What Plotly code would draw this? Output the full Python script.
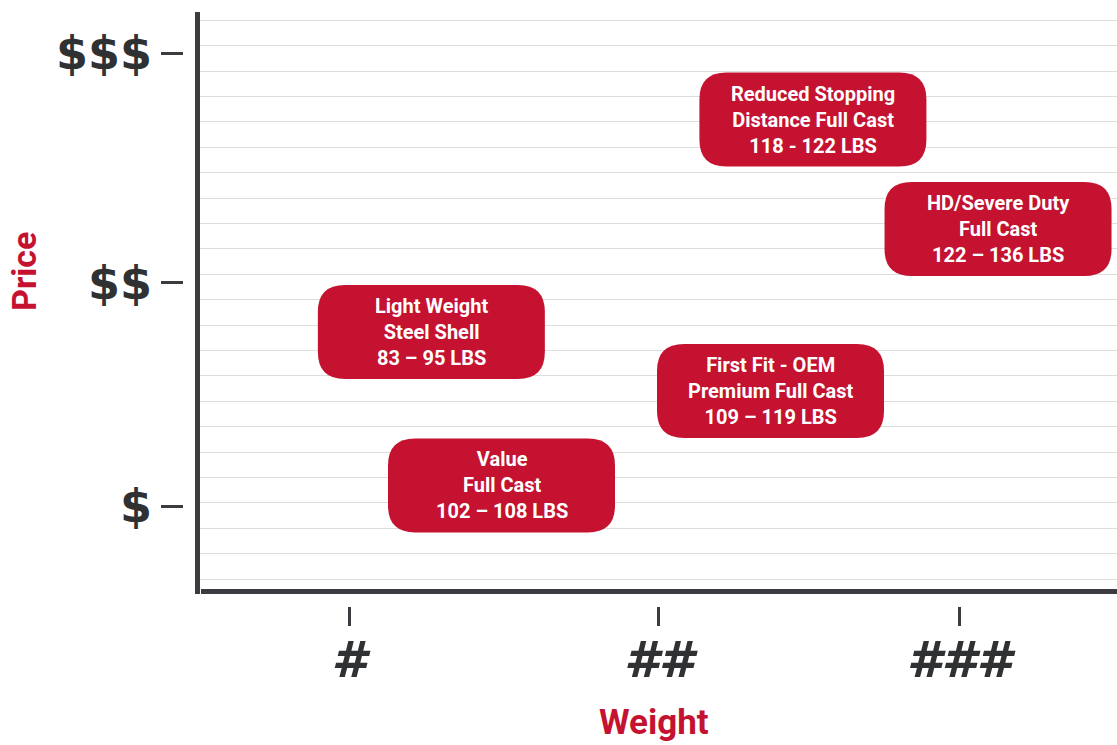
import plotly.graph_objects as go

# ---- data ----
categories = [
    "Reduced Stopping<br>Distance Full Cast<br>118 - 122 LBS",
    "HD/Severe Duty<br>Full Cast<br>122 – 136 LBS",
    "Light Weight<br>Steel Shell<br>83 – 95 LBS",
    "First Fit - OEM<br>Premium Full Cast<br>109 – 119 LBS",
    "Value<br>Full Cast<br>102 – 108 LBS",
]
weight_pos = [2.521, 3.128, 1.270, 2.382, 1.500]
price_pos = [2.706, 2.223, 1.768, 1.508, 1.091]

weight_ticks = [1, 2.016, 3]
weight_labels = ["#", "##", "###"]
price_ticks = [1, 1.985, 3]
price_labels = ["$", "$$", "$$$"]

RED = "#c41230"
DARK = "#3c3b40"
TXT = "#2f3133"
GRID = "#dddddd"
W, H = 1117, 745

x_range = [0.5115, 3.518]
y_range = [0.6203, 3.181]

fig = go.Figure()
fig.add_trace(go.Scatter(x=weight_pos, y=price_pos, mode="markers",
                         marker=dict(opacity=0), hoverinfo="skip", showlegend=False))
fig.add_trace(go.Scatter(x=weight_pos, y=price_pos, mode="markers", xaxis="x2", yaxis="y2",
                         marker=dict(opacity=0), hoverinfo="skip", showlegend=False))

bw, bh, r = 227, 94, 27
hw, hh = bw / 2, bh / 2
path = (f"M {-hw + r},{-hh} L {hw - r},{-hh} Q {hw},{-hh} {hw},{-hh + r} "
        f"L {hw},{hh - r} Q {hw},{hh} {hw - r},{hh} L {-hw + r},{hh} "
        f"Q {-hw},{hh} {-hw},{hh - r} L {-hw},{-hh + r} Q {-hw},{-hh} {-hw + r},{-hh} Z")

shapes = []
for xv, yv in zip(weight_pos, price_pos):
    shapes.append(dict(type="path", xref="x", yref="y", xsizemode="pixel", ysizemode="pixel",
                       xanchor=xv, yanchor=yv, path=path, fillcolor=RED,
                       line=dict(width=0), layer="above"))

# axis lines
shapes.append(dict(type="line", xref="paper", yref="paper",
                   x0=197.5 / W, x1=197.5 / W, y0=1 - 594 / H, y1=1 - 12 / H,
                   line=dict(color=DARK, width=5)))
shapes.append(dict(type="line", xref="paper", yref="paper",
                   x0=201 / W, x1=1, y0=1 - 591.5 / H, y1=1 - 591.5 / H,
                   line=dict(color=DARK, width=5)))

annotations = []
for txt, xv, yv in zip(categories, weight_pos, price_pos):
    annotations.append(dict(x=xv, y=yv, xref="x", yref="y", text=txt, showarrow=False,
                            font=dict(family="Roboto", size=20, color="white", weight="bold"),
                            align="center", xanchor="center", yanchor="middle"))

annotations.append(dict(x=24 / W, y=1 - 272 / H, xref="paper", yref="paper", text="Price",
                        textangle=-90, showarrow=False, xanchor="center", yanchor="middle",
                        font=dict(family="Roboto", size=34, color=RED, weight="bold")))
annotations.append(dict(x=653.5 / W, y=1 - 722 / H, xref="paper", yref="paper", text="Weight",
                        showarrow=False, xanchor="center", yanchor="middle",
                        font=dict(family="Roboto", size=35, color=RED, weight="bold")))

ytickfont = dict(family="DejaVu Sans", size=46, color=TXT, weight="bold")
xtickfont = dict(family="DejaVu Sans", size=50, color=TXT, weight="bold", style="italic")

fig.update_layout(
    width=W, height=H,
    margin=dict(l=0, r=0, t=0, b=0),
    paper_bgcolor="white", plot_bgcolor="white",
    showlegend=False,
    shapes=shapes,
    annotations=annotations,
    xaxis=dict(domain=[200 / W, 1], range=x_range, showgrid=False, zeroline=False,
               showline=False, showticklabels=False, ticks=""),
    yaxis=dict(domain=[1 - 592 / H, 1 - 12 / H], range=y_range, zeroline=False,
               showline=False, showticklabels=False, ticks="",
               showgrid=True, gridcolor=GRID, gridwidth=1,
               tickmode="linear", tick0=0.6777, dtick=0.11214),
    xaxis2=dict(overlaying="x", anchor="free", position=1 - 626 / H, side="bottom",
                range=x_range, domain=[200 / W, 1], showgrid=False, zeroline=False,
                showline=False, tickmode="array", tickvals=weight_ticks,
                ticktext=weight_labels, ticks="inside", ticklen=19, tickwidth=3,
                tickcolor=DARK, tickfont=xtickfont, ticklabelstandoff=0),
    yaxis2=dict(overlaying="y", anchor="free", position=160 / W, side="left",
                range=y_range, showgrid=False, zeroline=False, showline=False,
                tickmode="array", tickvals=price_ticks, ticktext=price_labels,
                ticks="inside", ticklen=22, tickwidth=3, tickcolor=DARK,
                tickfont=ytickfont, ticklabelstandoff=8),
)

fig.write_html("out.html", config={"displayModeBar": False},
               post_script="document.body.style.margin='0';")
